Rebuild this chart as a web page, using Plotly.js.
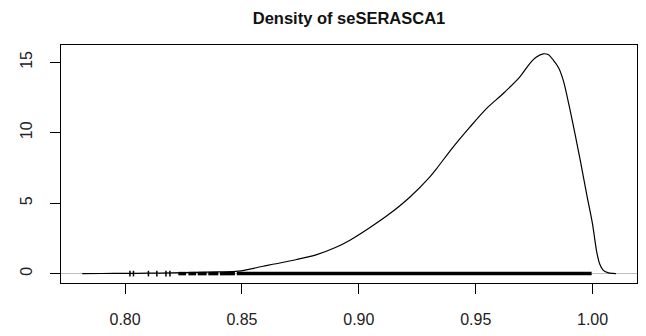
<!DOCTYPE html>
<html>
<head>
<meta charset="utf-8">
<script src="https://cdn.plot.ly/plotly-3.0.1.min.js"></script>
<style>html,body{margin:0;padding:0;background:#fff;}#chart{width:646px;height:336px;}</style>
</head>
<body>
<div id="chart"></div>
<script>
// Density curve
const densX = [0.7817, 0.7900, 0.8000, 0.8100, 0.8200, 0.8300, 0.8400, 0.8485, 0.8591, 0.8734, 0.8820, 0.8900, 0.8962, 0.9048, 0.9133, 0.9219, 0.9304, 0.9333, 0.9404, 0.9476, 0.9547, 0.9618, 0.9689, 0.9732, 0.9760, 0.9789, 0.9810, 0.9832, 0.9855, 0.9875, 0.9900, 0.9925, 0.9950, 0.9975, 1.0000, 1.0017, 1.0030, 1.0045, 1.0065, 1.0085, 1.0100];
const densY = [0.00, 0.005, 0.015, 0.03, 0.05, 0.08, 0.12, 0.18, 0.52, 1.00, 1.35, 1.85, 2.37, 3.27, 4.26, 5.44, 6.87, 7.46, 9.00, 10.42, 11.73, 12.79, 13.97, 14.93, 15.38, 15.60, 15.55, 15.16, 14.60, 13.70, 11.90, 9.90, 7.80, 5.60, 3.50, 1.60, 0.70, 0.25, 0.07, 0.01, 0.00];
// Rug: isolated observations and densely packed runs
const rugTicks = [0.8021, 0.8036, 0.8100, 0.8136, 0.8175, 0.8192];
const rugBandStart = [0.8228, 0.8271, 0.8311, 0.8356, 0.8406, 0.8478];
const rugBandEnd   = [0.8261, 0.8304, 0.8349, 0.8399, 0.8470, 0.9996];
const xTicks = [0.80, 0.85, 0.90, 0.95, 1.00];
const xTickText = ["0.80", "0.85", "0.90", "0.95", "1.00"];
const yTicks = [0, 5, 10, 15];
const yTickText = ["0", "5", "10", "15"];
const titleText = "Density of seSERASCA1";

const bandX = [], bandY = [];
rugBandStart.forEach((a, i) => { bandX.push(a, rugBandEnd[i], null); bandY.push(0, 0, null); });

const font = "Liberation Sans, Arial, Helvetica, sans-serif";
const traces = [
  {x: bandX, y: bandY, mode: "lines", line: {color: "#000", width: 3.5}, hoverinfo: "skip"},
  {x: rugTicks, y: rugTicks.map(() => 0), mode: "markers",
   marker: {symbol: "line-ns-open", size: 4, color: "#000", line: {color: "#000", width: 1.5}}, hoverinfo: "skip"},
  {x: densX, y: densY, mode: "lines", line: {color: "#000", width: 1.2, shape: "spline", smoothing: 0.8}}
];
const layout = {
  width: 646, height: 336,
  margin: {l: 61, r: 9, t: 45, b: 53},
  paper_bgcolor: "#fff", plot_bgcolor: "#fff",
  showlegend: false,
  font: {family: font, color: "#222", size: 16},
  title: {text: "<b>" + titleText + "</b>", font: {family: font, size: 16.5, color: "#111"},
          x: 0.5, xref: "paper", xanchor: "center", y: 1 - 18/336, yref: "container", yanchor: "middle"},
  xaxis: {range: [0.7726, 1.019], tickvals: xTicks, ticktext: xTickText, ticks: "outside", ticklen: 10,
          tickcolor: "#000", tickwidth: 1, showline: true, mirror: true, linecolor: "#000", linewidth: 1,
          showgrid: false, zeroline: false, tickfont: {size: 16}, ticklabelstandoff: 12},
  yaxis: {range: [-0.668, 16.23], tickvals: yTicks, ticktext: yTickText, ticks: "outside", ticklen: 10,
          tickcolor: "#000", tickwidth: 1, showline: true, mirror: true, linecolor: "#000", linewidth: 1,
          showgrid: false, zeroline: true, zerolinecolor: "#bebebe", zerolinewidth: 1,
          tickangle: -90, tickfont: {size: 16}, ticklabelstandoff: 12}
};
Plotly.newPlot("chart", traces, layout, {displayModeBar: false, staticPlot: true});
</script>
</body>
</html>
